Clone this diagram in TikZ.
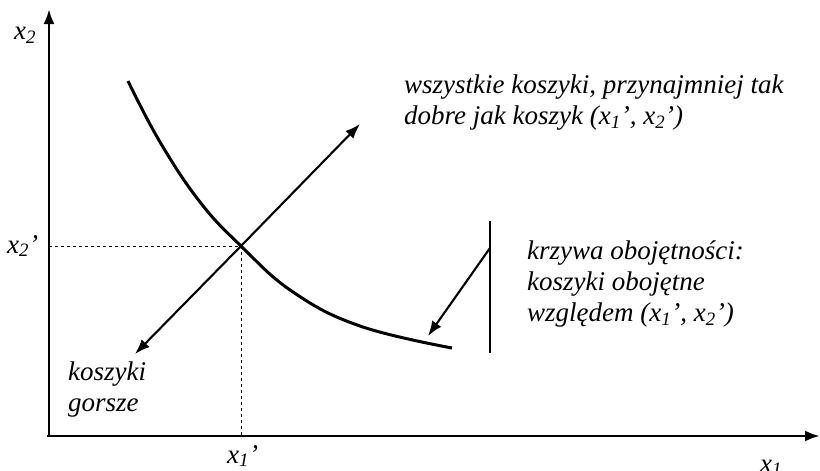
\documentclass[tikz,border=0pt]{standalone}
\usepackage{fontspec}
\setmainfont{Liberation Serif}
\usetikzlibrary{arrows.meta}
\begin{document}
\begin{tikzpicture}[x=1pt,y=-1pt,
  lbl/.style={font=\fontsize{27}{31}\selectfont\itshape, inner sep=0pt, align=left},
  tip/.style={-{Latex[length=15pt,width=11pt]}},
  axis/.style={line width=2.8pt, tip},
  arr/.style={line width=2.1pt},
  guide/.style={dashed, line width=0.8pt}]
\useasboundingbox (0,0) rectangle (820,471);
\coordinate (O) at (49,436);
\coordinate (ytop) at (49,9);
\coordinate (xend) at (820,436);
\coordinate (P) at (241,246);
\coordinate (Py) at (49,246);
\coordinate (Px) at (241,436);
\coordinate (up) at (360,124);
\coordinate (down) at (135,354);
\coordinate (vt) at (490,221);
\coordinate (vb) at (490,353);
\coordinate (vm) at (490,248);
\coordinate (ve) at (428,336);
% axes
\draw[axis] (O) -- (ytop);
\draw[axis] ([xshift=-2pt]O) -- (xend);
% dashed guides
\draw[guide] (Py) -- (P);
\draw[guide] (P) -- (Px);
% indifference curve
\draw[line width=3pt] plot[smooth, tension=0.7] coordinates
  {(128,81) (160,142) (200,202) (P) (293,292) (360,326) (452,348)};
% diagonal arrows
\draw[arr, tip] (P) -- (up);
\draw[arr, tip] (P) -- (down);
% vertical bar and pointer
\draw[arr] (vt) -- (vb);
\draw[arr, tip] (vm) -- (ve);
% labels
\node[lbl, anchor=west] (lx2) at (14,35) {x\textsubscript{2}};
\node[lbl, anchor=west] (lx2p) at (7,246) {x\textsubscript{2}’};
\node[lbl, anchor=base west] (lx1p) at (227,463) {x\textsubscript{1}’};
\node[lbl, anchor=base west] (lx1) at (760,472) {x\textsubscript{1}};
\node[lbl, anchor=west] (tup) at (404,103) {wszystkie koszyki, przynajmniej tak\\dobre jak koszyk (x\textsubscript{1}’, x\textsubscript{2}’)};
\node[lbl, anchor=west] (tcurve) at (527,284) {krzywa obojętności:\\koszyki obojętne\\względem (x\textsubscript{1}’, x\textsubscript{2}’)};
\node[lbl, anchor=west] (tworse) at (68,390) {koszyki\\gorsze};
\end{tikzpicture}
\end{document}
